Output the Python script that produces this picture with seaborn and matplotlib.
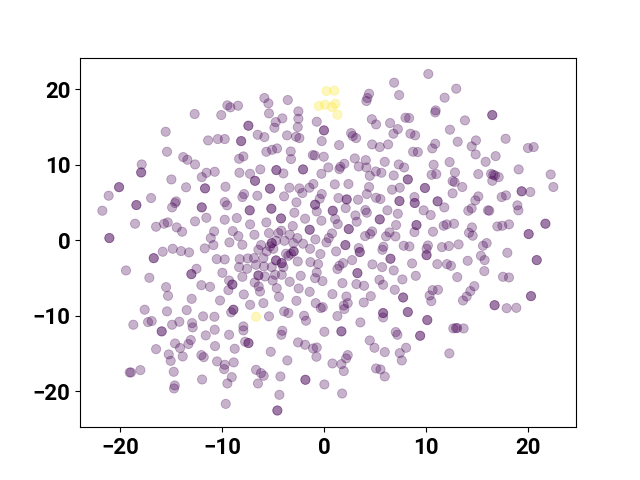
import matplotlib
matplotlib.use("Agg")
import matplotlib.pyplot as plt
import numpy as np
import seaborn as sns

# points, split by cluster
purple_x = [
    -12.68, -9.47, -9.18, -8.43, -10.07, -15.52, -11.36, -10.41, -9.73, -15.39,
    -13.8, -13.39, -12.64, -7.9, -8.32, -17.87, -14.96, -11.98, -11.52, -10.71,
    -8.29, -7.25,
    -5.84, -5.45, -3.55, -5.39, -2.51, -2.51, -4.08, -4.73, -4.86, -2.57,
    -0.71, -6.5, -5.84, -3.62, -2.74, -2.41, -0.22, 2.66, 2.82, 3.15,
    1.48, 4.72, 5.47, 6.29, 6.81, 7.24, 6.48, 5.11, 4.69, 7.99,
    8.35, 4.16, 4.26, 4.42, 6.88, 7.37, 8.48, 8.94, 8.74, 9.2,
    -5.65, -5.09, -4.6, -3.26, -3.23, -1.1, -0.91, -0.02, 3.02, 4.1,
    5.96, 7.33, 7.86, 2.0, 1.61, 1.51, 0.43, -0.25, 3.41, 4.16,
    4.49, 5.08, 5.63, 6.84, -6.24, -3.98,
    10.23, 12.97, 11.83, 10.95, 10.91, 13.82, 12.35, 17.81, 14.9, 14.48,
    14.87, 13.11, 10.91, 10.62, 20.0, 20.56, 16.83, 15.85, 12.32, 10.75,
    10.55, 11.01, 12.84, 15.13, 19.09, 22.23, 16.38, 16.6, 16.77, 17.13,
    16.5, 12.61, 12.81,
    -21.11, -21.73, -16.95, -18.52, -16.46, -15.68, -15.32, -14.44, -13.91, -13.52,
    -9.66, -7.83, -8.0, -9.73, -9.5, -14.5, -14.6, -14.89, -11.53, -12.64,
    -9.73, -8.55, -7.24, -10.77, -8.94, -11.1, -8.39, -9.27, -8.0, -10.84,
    -11.69, -15.81, -14.83, -14.01, -13.23, -19.41, -17.12, -12.5, -10.51, -9.73,
    -8.26, -7.47, -8.32, -7.54, -9.96, -8.0, -9.3, -9.37, -12.02, -11.17,
    -15.48, -15.29, -12.97, -10.19, -7.86, -7.24,
    -3.39, -2.41, -2.12, -1.43, -1.04, -6.53, -3.91, -2.7, -0.22, -0.42,
    1.06, 2.4, 1.42, 3.34, 4.42, 4.2, 5.11, 5.53, 6.68, 7.43,
    8.87, 6.22, 7.24, -2.9, -5.65, -3.06, -1.85, -0.71, 2.13, -0.25,
    1.09, 1.35, 3.08, 3.21, 4.06, 4.2, 7.07, 8.87, 6.42, 6.09,
    7.01, 4.72, 4.52, 4.03, 0.79, 0.47, 0.24, -0.84, -6.82, -5.39,
    -4.47, -4.18, -3.36, -2.61, -2.05, -3.0, -3.88, -4.7, -6.17, -5.29,
    -4.96, -6.43, -1.36, -3.23, -3.72, -5.61, -6.86, -5.94, -3.98, -3.49,
    -2.57, -0.35, -1.33, -0.58, 1.19, 3.41, 2.76, 1.87, 1.51, 1.32,
    4.75, 5.7, 6.84, 5.83, 5.73, 7.82, 8.38, 8.64, 9.0, 7.69,
    5.44, 5.8, 3.18, 3.93, 6.94, 1.81, 0.83, 2.2, 2.33, 1.94,
    3.9, 4.59, -0.71, -0.87, -0.15, -2.28, -3.36, -2.48, -1.4, -4.41,
    -2.7, -5.94, -0.81, -0.12, -6.27, -6.4, -6.79, -5.78, -5.03, -4.14,
    -4.8, -5.12, -5.88, -6.66, -4.63,
    12.61, 13.56, 15.13, 14.84, 11.8, 9.77, 10.46, 14.48, 14.15, 16.08,
    16.21, 17.42, 17.85, 20.23, 22.49, 18.96, 19.06, 18.14, 17.49, 17.0,
    12.75, 12.03, 11.73, 10.69, 14.51, 14.22, 14.58, 13.2, 12.25, 11.57,
    15.95, 15.59, 10.19, 10.06, 17.98, 15.39, 15.75, 14.09, 11.11, 12.06,
    12.45, 15.72, 13.07, 17.55, 18.14, 14.74, 14.35, 13.99, 13.63, 10.65,
    11.18, 10.36, 10.52, 17.91, 18.86,
    -17.58, -15.39, -13.46, -9.1, -18.69, -17.25, -16.89, -14.89, -14.18, -12.93,
    -12.87, -11.85, -10.74, -10.71, -11.59, -9.3, -7.9, -7.9, -7.73, -8.75,
    -10.68, -13.06, -13.29, -14.6, -14.11, -15.22, -13.85, -15.03, -16.46, -12.02,
    -11.79, -10.48, -9.73, -9.79, -8.85, -9.04, -9.47, -9.63, -11.95, -14.73,
    -14.63, -14.7, -18.0, -19.05, -18.92,
    -5.39, -3.91, -3.49, -1.95, -1.76, -0.32, 1.32, 2.0, 3.57, 5.8,
    0.04, -4.08, -4.18, 7.04, 7.2, 4.49, 4.95, 5.96, 8.05, 7.43,
    7.63, -2.54, -1.85, -1.07, -0.71, -0.74, -5.22, -3.59, 2.33, 2.17,
    0.83, 1.71, 1.94, 5.11, 5.54, 5.96, -6.66, -6.17, -5.91, -6.47,
    -4.27, 0.04, 1.78, -4.37,
    12.68, 13.07, 12.94, 13.69, 12.29,
]
purple_y = [
    16.69, 17.84, 17.57, 17.79, 16.55, 14.34, 13.19, 13.37, 13.37, 11.69,
    10.98, 10.63, 10.01, 11.07, 10.76, 10.01, 8.02, 8.33, 8.91, 9.04,
    8.91, 8.77,
    18.81, 18.1, 18.54, 16.77, 17.04, 16.07, 16.11, 15.62, 14.87, 14.96,
    15.67, 13.94, 13.63, 13.86, 13.68, 13.5, 13.1, 14.16, 13.77, 13.5,
    12.57, 12.66, 12.31, 12.66, 14.08, 14.69, 15.49, 15.31, 16.0, 16.2,
    16.15, 18.41, 18.81, 19.38, 20.84, 19.2, 14.08, 13.86, 11.69, 11.65,
    11.69, 11.95, 12.13, 11.73, 10.72, 11.25, 11.2, 11.03, 10.81, 10.58,
    10.36, 10.01, 9.61, 10.1, 9.7, 9.39, 9.61, 8.77, 9.74, 9.61,
    8.51, 9.08, 8.91, 8.55, 9.35, 8.82,
    21.99, 20.04, 18.85, 17.17, 16.9, 15.84, 14.61, 13.41, 13.19, 12.4,
    11.34, 13.02, 12.75, 12.13, 12.18, 12.31, 11.11, 10.36, 10.32, 9.97,
    8.64, 8.73, 8.95, 8.73, 9.35, 8.68, 8.77, 8.64, 8.55, 8.33,
    7.84, 7.8, 7.67,
    5.87, 3.88, 5.56, 2.16, 1.76, 2.16, 2.33, 1.67, 1.1, 6.98,
    7.06, 6.09, 5.69, 5.03, 4.59, 5.12, 4.9, 4.32, 2.95, 2.47,
    2.69, 2.91, 2.07, 1.14, 1.18, 0.26, 0.52, -0.32, -0.63, -0.67,
    -1.11, -1.55, -1.16, -1.47, -1.64, -4.03, -5.0, -3.81, -2.53, -2.57,
    -2.53, -2.44, -3.59, -3.81, -4.34, -4.87, -5.36, -6.64, -5.98, -6.2,
    -6.24, -7.39, -7.79, -8.01, -7.21, -8.58,
    6.93, 6.84, 6.22, 6.93, 7.42, 5.87, 5.78, 4.99, 6.09, 5.47,
    7.37, 7.42, 5.56, 5.34, 7.02, 6.09, 5.6, 5.43, 6.67, 6.93,
    5.69, 3.93, 3.48, 3.62, 2.33, 1.85, 2.82, 3.79, 4.23, 2.56,
    2.78, 2.11, 3.26, 2.42, 3.97, 3.62, 1.98, 1.05, 1.01, 0.48,
    0.48, 1.14, 0.79, 0.52, 0.88, 0.26, -0.32, 0.08, 0.7, 0.92,
    0.92, 1.23, 0.7, 0.26, -0.49, -0.41, -0.1, -0.1, -0.67, -0.85,
    -1.16, -1.29, -1.16, -1.82, -1.82, -1.51, -2.4, -2.4, -3.59, -2.09,
    -2.84, -1.86, -2.93, -3.19, -1.51, -1.07, -2.66, -3.06, -3.41, -3.85,
    -3.23, -3.59, -4.03, -0.89, -1.29, -0.76, -0.85, -3.1, -4.74, -5.22,
    -5.27, -5.93, -5.84, -6.06, -6.59, -5.71, -7.17, -7.48, -8.36, -8.67,
    -8.27, -7.43, -4.3, -5.05, -5.44, -4.74, -5.53, -6.42, -6.86, -7.52,
    -8.05, -8.36, -8.36, -8.89, -6.82, -6.15, -5.62, -4.83, -5.36, -4.6,
    -4.6, -3.59, -3.5, -3.28, -6.37,
    6.18, 7.02, 5.78, 5.25, 4.32, 3.93, 3.31, 4.19, 3.88, 3.93,
    3.88, 5.69, 5.91, 6.36, 7.02, 4.59, 3.93, 2.07, 1.89, 1.8,
    2.16, 2.07, 1.89, 1.1, 1.67, 0.96, 0.57, -0.58, -0.8, -0.94,
    -0.41, -0.76, -0.72, -1.16, -1.69, -2.09, -2.66, -2.75, -3.19, -3.19,
    -3.41, -4.12, -4.91, -4.87, -4.96, -6.11, -6.77, -7.48, -8.01, -6.64,
    -6.59, -7.35, -8.1, -9.03, -8.98,
    -9.23, -9.45, -9.28, -9.58, -11.22, -10.87, -10.73, -11.22, -10.82, -11.0,
    -11.57, -10.11, -10.16, -11.88, -12.63, -12.55, -11.44, -11.97, -13.47, -14.4,
    -14.05, -13.25, -13.78, -13.7, -14.31, -15.15, -15.42, -16.0, -14.45, -15.24,
    -15.51, -16.08, -16.52, -17.1, -16.21, -18.16, -19.0, -21.7, -18.47, -17.45,
    -19.26, -19.66, -17.23, -17.54, -17.54,
    -10.11, -9.45, -9.67, -10.03, -10.69, -9.01, -10.07, -9.14, -10.91, -10.25,
    -12.15, -12.02, -12.55, -12.19, -12.55, -13.3, -14.27, -14.84, -14.27, -14.98,
    -15.95, -13.56, -13.87, -14.36, -14.23, -15.46, -14.8, -15.95, -15.24, -15.68,
    -16.35, -16.44, -17.36, -17.01, -17.14, -18.07, -17.19, -17.63, -17.98, -19.0,
    -18.07, -19.13, -20.33, -20.5,
    -11.71, -11.66, -11.66, -11.71, -15.02,
]

# the darker dots are two samples sitting on top of each other
stacked_x = [
    -7.41, -8.12, -17.92, 0.0, 8.22, -4.67, -2.05, -6.76, 16.5, -20.09,
    -18.39, -21.04, -11.66, -11.98, -7.28, -16.69, -13.0, -8.98, -5.29, 2.23,
    8.9, 7.4, -5.16, -4.21, -0.87, 0.86, 5.47, 9.07, 2.43, -1.4,
    -5.12, -2.97, -4.7, -4.14, 2.1, 3.51, 3.28, 6.52, 7.76, -6.43,
    9.9, 11.14, 19.38, 21.71, 20.07, 20.86, 20.3, 10.06, 16.73, -8.88,
    -15.91, -7.4, 5.8, 8.22, 1.71, 9.43, -1.82, -4.57, 10.13,
]
stacked_y = [
    15.14, 13.1, 8.95, 14.52, 8.02, 9.26, 9.35, 7.84, 16.55, 7.0,
    4.63, 0.26, 6.84, 4.32, 3.93, -2.4, -4.52, -5.89, 6.8, 5.38,
    4.9, 5.16, 4.15, 2.86, 4.68, 3.88, 2.73, 1.98, 1.45, 1.36,
    -0.41, -1.51, -2.7, -3.06, -0.67, -1.6, -4.38, -2.48, -7.61, -4.69,
    6.89, 5.12, 6.45, 2.16, 0.79, -2.66, -7.43, -2.0, -8.63, -9.23,
    -12.1, -13.65, -9.67, -9.54, -12.1, -12.68, -18.51, -22.58, -10.6,
]

yellow_x = [0.24, 1.02, -0.51, 0.11, 0.79, 1.12, 1.32, -6.66]
yellow_y = [19.73, 19.78, 17.75, 17.92, 17.61, 18.05, 16.6, -10.16]

x = np.array(purple_x + stacked_x + stacked_x + yellow_x)
y = np.array(purple_y + stacked_y + stacked_y + yellow_y)
labels = np.array([0] * (len(purple_x) + 2 * len(stacked_x)) + [1] * len(yellow_x))

plt.rcParams['font.family'] = ['Roboto', 'DejaVu Sans']
plt.rcParams['font.weight'] = 'bold'
plt.rcParams['font.size'] = 16

fig, ax = plt.subplots(figsize=(6.4, 4.8), dpi=100)
sns.scatterplot(x=x, y=y, hue=labels, palette=['#440154', '#fde725'], s=44, alpha=0.3,
                edgecolor='face', linewidth=0.6, legend=False, ax=ax)
ax.set_xlim(-23.92, 24.71)
ax.set_ylim(-24.79, 24.16)
ax.set_xticks([-20, -10, 0, 10, 20])
ax.set_yticks([-20, -10, 0, 10, 20])
fig.savefig('out.png', dpi=100)
